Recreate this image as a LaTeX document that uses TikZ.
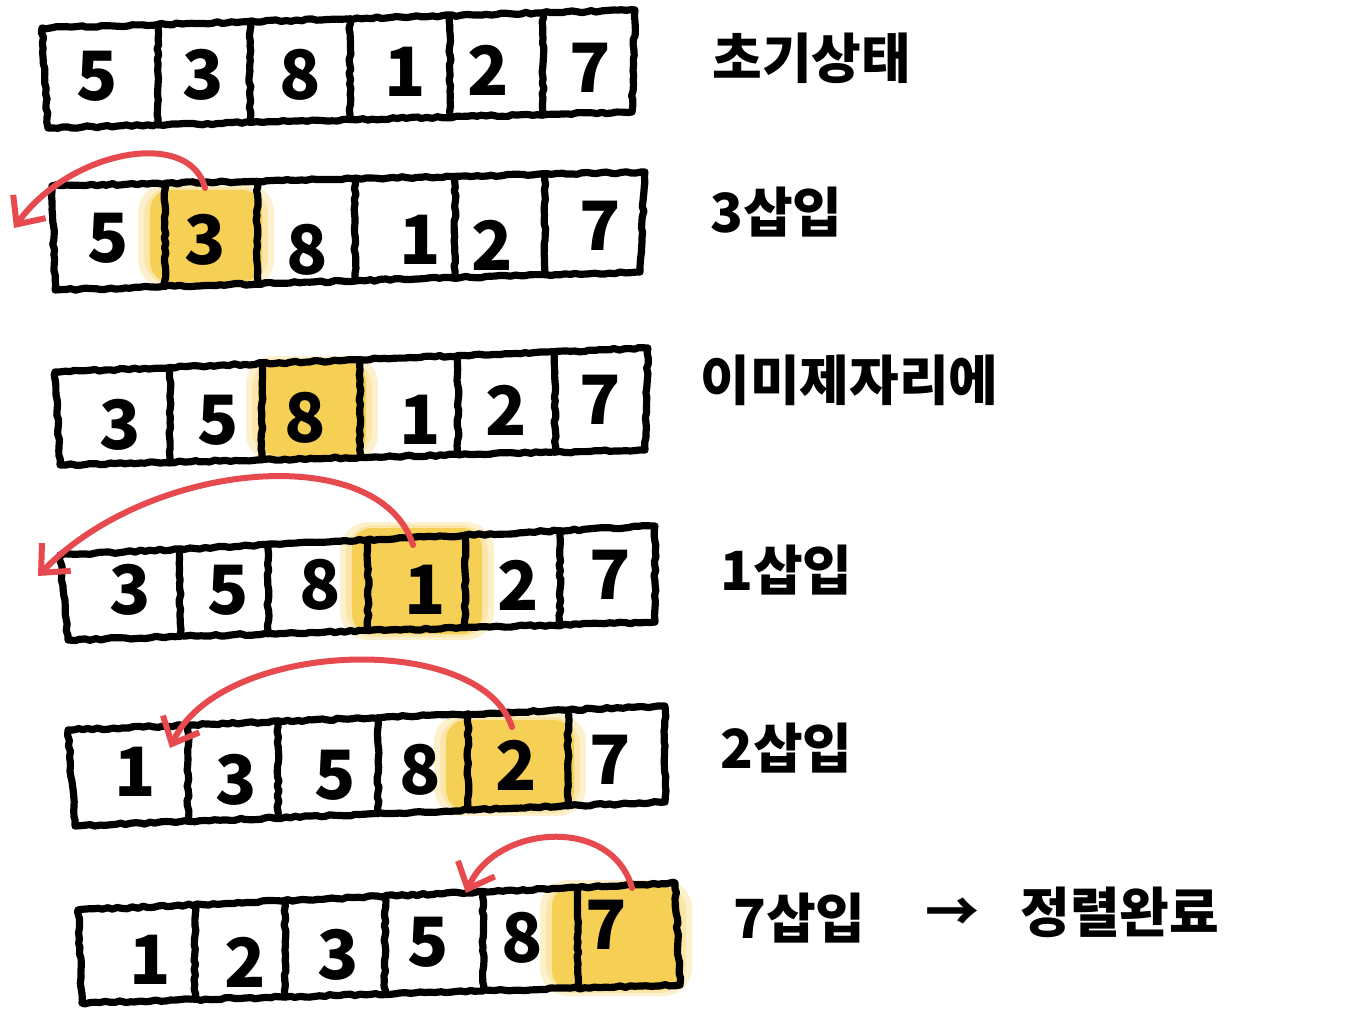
\documentclass[tikz,border=0pt]{standalone}
\usepackage{fontspec}
\newfontfamily\kr{Noto Sans CJK KR}
\usetikzlibrary{arrows.meta,decorations.pathmorphing,calc}
\definecolor{hl}{HTML}{F6CF55}
\definecolor{redmark}{HTML}{E64A4E}
\tikzset{
  gridline/.style={line width=3.6pt, line join=round, line cap=round,
    decorate, decoration={random steps, segment length=2.5pt, amplitude=0.5pt}},
  num/.style={font=\kr\bfseries\fontsize{34}{34}\selectfont, inner sep=0pt},
  lab/.style={font=\kr\bfseries\fontsize{27}{30}\selectfont, inner sep=0pt, anchor=west},
  blob/.style={fill=hl, rounded corners=10pt},
  softblob/.style={fill=hl, opacity=0.3, rounded corners=14pt},
  move/.style={draw=redmark, line width=3pt, line cap=round,
    -{Straight Barb[length=11pt,width=20pt,line width=3pt]}},
}
\newcommand\hlblob[4]{% x1 y1 x2 y2 of the core
  \fill[softblob] (#1-12,#2-6) rectangle (#3+12,#4+6);
  \fill[softblob] (#1-6,#2-3) rectangle (#3+6,#4+3);
  \fill[blob] (#1,#2) rectangle (#3,#4);
}
\begin{document}
\begin{tikzpicture}[x=0.5pt,y=-0.5pt]
\useasboundingbox (0,0) rectangle (1368,1011);

% ---------- highlights ----------
\hlblob{150}{190}{262}{282}
\hlblob{258}{362}{366}{456}
\hlblob{352}{528}{482}{634}
\hlblob{446}{720}{574}{810}
\hlblob{552}{886}{680}{990}

% ---------- rows of cells ----------
\foreach \r/\tlx/\tly/\trx/\try/\blx/\bly/\brx/\bry/\divs in {
  1/42/28/635/10/48/128/632/112/{158,250,350,450,543},
  2/52/186/645/172/55/290/640/272/{165,257,355,455,545},
  3/55/372/648/348/60/465/645/450/{170,262,360,458,555},
  4/60/555/655/526/68/640/655/622/{180,268,368,465,560},
  5/68/730/665/706/75/826/665/802/{188,278,378,468,568},
  6/78/910/675/883/82/1003/680/985/{195,285,385,483,578}}{
  \coordinate (tl\r) at (\tlx,\tly);
  \coordinate (tr\r) at (\trx,\try);
  \coordinate (bl\r) at (\blx,\bly);
  \coordinate (br\r) at (\brx,\bry);
  \draw[gridline] (tl\r) -- (tr\r) -- (br\r) -- (bl\r) -- cycle;
  \foreach \d in \divs {
    \pgfmathsetmacro\ft{(\d-\tlx)/(\trx-\tlx)}
    \pgfmathsetmacro\fb{(\d-\blx)/(\brx-\blx)}
    \draw[gridline] ($(tl\r)!\ft!(tr\r)$) -- ($(bl\r)!\fb!(br\r)$);
  }
}

% ---------- numbers ----------
\foreach \n/\x/\y [count=\i] in {5/97/76,3/203/75,8/300/75,1/405/72,2/488/70,7/590/68}
  \node[num] (r1c\i) at (\x,\y) {\n};
\foreach \n/\x/\y [count=\i] in {5/108/238,3/205/240,8/307/250,1/420/240,2/492/245,7/600/226}
  \node[num] (r2c\i) at (\x,\y) {\n};
\foreach \n/\x/\y [count=\i] in {3/120/425,5/218/420,8/305/418,1/420/420,2/506/410,7/600/400}
  \node[num] (r3c\i) at (\x,\y) {\n};
\foreach \n/\x/\y [count=\i] in {3/130/590,5/228/590,8/320/585,1/425/590,2/518/585,7/610/575}
  \node[num] (r4c\i) at (\x,\y) {\n};
\foreach \n/\x/\y [count=\i] in {1/135/772,3/236/780,5/335/775,8/420/770,2/516/765,7/610/760}
  \node[num] (r5c\i) at (\x,\y) {\n};
\foreach \n/\x/\y [count=\i] in {1/150/960,2/245/962,3/338/955,5/428/942,8/522/938,7/606/925}
  \node[num] (r6c\i) at (\x,\y) {\n};

% ---------- red insertion arrows ----------
\coordinate (s2) at (205,188);  \coordinate (e2) at (14,228);
\coordinate (s4) at (413,545);  \coordinate (e4) at (38,576);
\coordinate (s5) at (512,727);  \coordinate (e5) at (170,748);
\coordinate (s6) at (632,888);  \coordinate (e6) at (466,893);
\draw[move] (s2) .. controls (190,128) and (70,150) .. (e2);
\draw[move] (s4) .. controls (380,440) and (150,460) .. (e4);
\draw[move] (s5) .. controls (480,630) and (220,640) .. (e5);
\draw[move] (s6) .. controls (612,815) and (495,825) .. (e6);

% ---------- labels ----------
\node[lab] (l1) at (712,58) {초기상태};
\node[lab] (l2) at (710,212) {3삽입};
\node[lab] (l3) at (700,380) {이미제자리에};
\node[lab] (l4) at (720,570) {1삽입};
\node[lab] (l5) at (720,748) {2삽입};
\node[lab] (l6) at (733,918) {7삽입};
\node[lab] (l6a) at (925,915) {→};
\node[lab] (l6b) at (1020,912) {정렬완료};
\end{tikzpicture}
\end{document}
